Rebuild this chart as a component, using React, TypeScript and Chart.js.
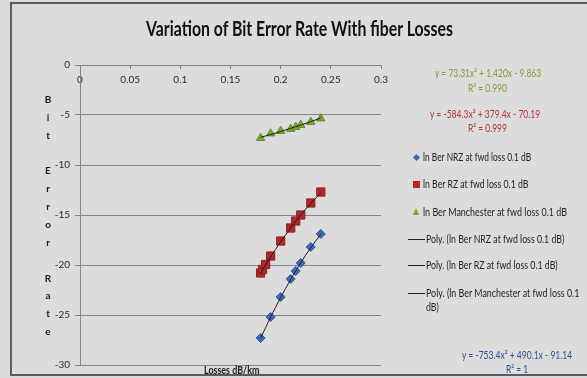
import React, { useEffect, useLayoutEffect, useRef, useState } from "react";
import { Chart, registerables } from "chart.js";

Chart.register(...registerables);

// ---------- data ----------
const TITLE = "Variation of Bit Error Rate With fiber Losses";
const X_TITLE = "Losses  dB/km";
const Y_TITLE_LINES = ["B", "i", "t", "", "E", "r", "r", "o", "r", "", "R", "a", "t", "e"];

const X_MIN = 0;
const X_MAX = 0.3;
const X_STEP = 0.05;
const Y_MIN = -30;
const Y_MAX = 0;
const Y_STEP = 5;

const SERIES_NAMES = [
  "ln Ber NRZ at fwd loss 0.1 dB",
  "ln Ber RZ at fwd loss 0.1 dB",
  "ln Ber Manchester at fwd loss 0.1 dB",
];
const TREND_NAMES = [
  "Poly. (ln Ber NRZ at fwd loss 0.1 dB)",
  "Poly. (ln Ber RZ at fwd loss 0.1 dB)",
  "Poly. (ln Ber Manchester at fwd loss 0.1",
];
const TREND_NAME_WRAP = "dB)";

// measured points
const nrzLoss = [0.18, 0.19, 0.2, 0.21, 0.215, 0.22, 0.23, 0.24];
const nrzBer = [-27.3, -25.2, -23.2, -21.4, -20.6, -19.8, -18.2, -16.9];

const rzLoss = [0.18, 0.182, 0.185, 0.19, 0.2, 0.21, 0.215, 0.22, 0.23, 0.24];
const rzBer = [-20.8, -20.45, -19.95, -19.1, -17.6, -16.3, -15.6, -15.0, -13.8, -12.7];

const manLoss = [0.18, 0.19, 0.2, 0.21, 0.215, 0.22, 0.23, 0.24];
const manBer = [-7.3, -6.85, -6.6, -6.4, -6.2, -6.0, -5.7, -5.35];

// polynomial trend lines
const trendLoss = [0.18, 0.19, 0.2, 0.21, 0.22, 0.23, 0.24];
const nrzTrend = [-27.33, -25.22, -23.26, -21.44, -19.78, -18.27, -16.92];
const rzTrend = [-20.83, -19.19, -17.68, -16.29, -15.0, -13.84, -12.79];
const manTrend = [-7.23, -6.95, -6.65, -6.33, -6.0, -5.66, -5.3];

const EQ_MAN = ["y = 73.31x² + 1.420x - 9.863", "R² = 0.990"];
const EQ_RZ = ["y = -584.3x² + 379.4x - 70.19", "R² = 0.999"];
const EQ_NRZ = ["y = -753.4x² + 490.1x - 91.14", "R² = 1"];

// ---------- styles ----------
const W = 587;
const H = 378;
const FONT = "Lato, 'Open Sans', sans-serif";
const TICK_FONT = "Lato, sans-serif";
const BG = "#dcdcdc";
const BLUE = "#3c6bb4";
const RED = "#b3272c";
const GREEN = "#7caa36";
const EQ_GREEN = "#8c9a3c";
const EQ_RED = "#b5363b";
const EQ_BLUE = "#2f4f9a";
const GRID = "#858585";

const pts = (xs: number[], ys: number[]) => xs.map((x, i) => ({ x, y: ys[i] }));

type TP = {
  x: number;
  y: number;
  w: number;
  align?: "left" | "center";
  size: number;
  bold?: boolean;
  color: string;
  text: string;
};

function FitText({ x, y, w, align = "left", size, bold, color, text }: TP) {
  const ref = useRef<HTMLSpanElement>(null);
  const [k, setK] = useState(1);
  useLayoutEffect(() => {
    const el = ref.current;
    if (!el) return;
    const nat = el.offsetWidth;
    if (nat > 0) setK(w / nat);
  }, [w, text, size]);
  const left = align === "center" ? x - w / 2 : x;
  return (
    <span
      ref={ref}
      style={{
        position: "absolute",
        left,
        top: y,
        fontFamily: FONT,
        fontSize: size,
        fontWeight: bold ? 700 : 400,
        color,
        whiteSpace: "nowrap",
        lineHeight: 1,
        transformOrigin: "0 50%",
        transform: `translateY(-50%) scaleX(${k})`,
      }}
    >
      {text}
    </span>
  );
}

function Marker({ kind, x, y, color }: { kind: string; x: number; y: number; color: string }) {
  if (kind === "diamond") {
    return (
      <div
        style={{
          position: "absolute",
          left: x - 2.5,
          top: y - 2.5,
          width: 5,
          height: 5,
          background: color,
          transform: "rotate(45deg)",
        }}
      />
    );
  }
  if (kind === "square") {
    return (
      <div style={{ position: "absolute", left: x - 3.5, top: y - 3.5, width: 7, height: 7, background: color }} />
    );
  }
  if (kind === "triangle") {
    return (
      <div
        style={{
          position: "absolute",
          left: x - 3.5,
          top: y - 3.5,
          width: 0,
          height: 0,
          borderLeft: "3.5px solid transparent",
          borderRight: "3.5px solid transparent",
          borderBottom: `7px solid ${color}`,
        }}
      />
    );
  }
  return (
    <div style={{ position: "absolute", left: x, top: y - 0.5, width: 17, height: 0, borderTop: "1px solid #222" }} />
  );
}

export default function App() {
  const canvasRef = useRef<HTMLCanvasElement>(null);

  useEffect(() => {
    document.body.style.margin = "0";
    const canvas = canvasRef.current;
    if (!canvas) return;
    const trendStyle = {
      showLine: true,
      pointRadius: 0,
      borderColor: "#1a1a1a",
      borderWidth: 1,
      tension: 0.3,
      fill: false,
      order: 0,
    };
    const fmt = (v: any) => String(Math.round(Number(v) * 100) / 100);
    const chart = new Chart(canvas, {
      type: "scatter",
      data: {
        datasets: [
          {
            label: SERIES_NAMES[0],
            data: pts(nrzLoss, nrzBer),
            pointStyle: "rectRot",
            pointRadius: 4.5,
            backgroundColor: BLUE,
            borderColor: "#2c5599",
            borderWidth: 1,
            order: 1,
          },
          {
            label: SERIES_NAMES[1],
            data: pts(rzLoss, rzBer),
            pointStyle: "rect",
            pointRadius: 5.8,
            backgroundColor: RED,
            borderColor: "#8e1c20",
            borderWidth: 1,
            order: 1,
          },
          {
            label: SERIES_NAMES[2],
            data: pts(manLoss, manBer),
            pointStyle: "triangle",
            pointRadius: 4.8,
            backgroundColor: GREEN,
            borderColor: "#5f8a26",
            borderWidth: 1,
            order: 1,
          },
          { label: TREND_NAMES[0], data: pts(trendLoss, nrzTrend), ...trendStyle },
          { label: TREND_NAMES[1], data: pts(trendLoss, rzTrend), ...trendStyle },
          { label: TREND_NAMES[2], data: pts(trendLoss, manTrend), ...trendStyle },
        ] as any,
      },
      options: {
        responsive: false,
        animation: false,
        devicePixelRatio: 1,
        layout: { padding: { left: 35, top: 65, right: 206, bottom: 13 } },
        plugins: {
          legend: { display: false },
          tooltip: { enabled: false },
          title: { display: false },
        },
        scales: {
          x: {
            type: "linear",
            position: { y: 0 } as any,
            min: X_MIN,
            max: X_MAX,
            ticks: {
              stepSize: X_STEP,
              padding: 6,
              color: "#2a2a2a",
              font: { family: TICK_FONT, size: 10 },
              maxRotation: 0,
              callback: fmt,
            },
            grid: { drawOnChartArea: false, drawTicks: true, tickLength: 3, color: GRID },
            border: { display: true, color: GRID, width: 1 },
          },
          y: {
            type: "linear",
            position: "left",
            min: Y_MIN,
            max: Y_MAX,
            afterFit: (s: any) => {
              s.width = 45;
            },
            ticks: {
              stepSize: Y_STEP,
              padding: 5,
              color: "#2a2a2a",
              font: { family: TICK_FONT, size: 10 },
              callback: fmt,
            },
            grid: { color: GRID, tickLength: 5, drawTicks: true },
            border: { display: true, color: GRID, width: 1 },
          },
        },
      } as any,
    });
    return () => chart.destroy();
  }, []);

  const lineH = (332 - 100) / 13;

  return (
    <div style={{ position: "fixed", left: 0, top: 0, width: W, height: H, background: BG, overflow: "hidden" }}>
      <div
        style={{
          position: "absolute",
          left: 10,
          top: 2,
          width: W,
          height: 376 - 2,
          border: "2px solid #5c5c5c",
          boxSizing: "border-box",
        }}
      />
      <canvas ref={canvasRef} width={W} height={H} style={{ position: "absolute", left: 0, top: 0 }} />

      <FitText x={299.5} y={27} w={307} align="center" size={21} bold color="#111" text={TITLE} />
      <FitText x={231} y={368.5} w={55} align="center" size={11} bold color="#1a1a1a" text={X_TITLE} />

      <div style={{ position: "absolute", left: 38, top: 100 - lineH / 2, width: 20 }}>
        {Y_TITLE_LINES.map((c, i) => (
          <div
            key={i}
            style={{
              height: lineH,
              lineHeight: `${lineH}px`,
              textAlign: "center",
              fontFamily: FONT,
              fontWeight: 700,
              fontSize: 10,
              color: "#1a1a1a",
            }}
          >
            {c || "\u00a0"}
          </div>
        ))}
      </div>

      <FitText x={487.5} y={71.7} w={106} align="center" size={11} color={EQ_GREEN} text={EQ_MAN[0]} />
      <FitText x={487} y={86.7} w={39} align="center" size={11} color={EQ_GREEN} text={EQ_MAN[1]} />
      <FitText x={485} y={112.7} w={110} align="center" size={11} color={EQ_RED} text={EQ_RZ[0]} />
      <FitText x={487} y={127.3} w={39} align="center" size={11} color={EQ_RED} text={EQ_RZ[1]} />

      <Marker kind="diamond" x={416} y={157.3} color={BLUE} />
      <Marker kind="square" x={416} y={184.3} color={RED} />
      <Marker kind="triangle" x={416} y={211.7} color={GREEN} />
      <Marker kind="line" x={408} y={239.3} color="#222" />
      <Marker kind="line" x={408} y={265.3} color="#222" />
      <Marker kind="line" x={408} y={293.3} color="#222" />

      <FitText x={423.3} y={157.3} w={108} size={11.5} color="#222" text={SERIES_NAMES[0]} />
      <FitText x={423.3} y={184.3} w={105} size={11.5} color="#222" text={SERIES_NAMES[1]} />
      <FitText x={423.3} y={211.7} w={144} size={11.5} color="#222" text={SERIES_NAMES[2]} />
      <FitText x={426} y={239.3} w={138} size={11.5} color="#222" text={TREND_NAMES[0]} />
      <FitText x={426} y={265.3} w={132} size={11.5} color="#222" text={TREND_NAMES[1]} />
      <FitText x={426} y={293.3} w={153} size={11.5} color="#222" text={TREND_NAMES[2]} />
      <FitText x={426} y={306.7} w={13} size={11.5} color="#222" text={TREND_NAME_WRAP} />

      <FitText x={516.7} y={354} w={110} align="center" size={11} color={EQ_BLUE} text={EQ_NRZ[0]} />
      <FitText x={516.7} y={368.3} w={22} align="center" size={11} color={EQ_BLUE} text={EQ_NRZ[1]} />
    </div>
  );
}
